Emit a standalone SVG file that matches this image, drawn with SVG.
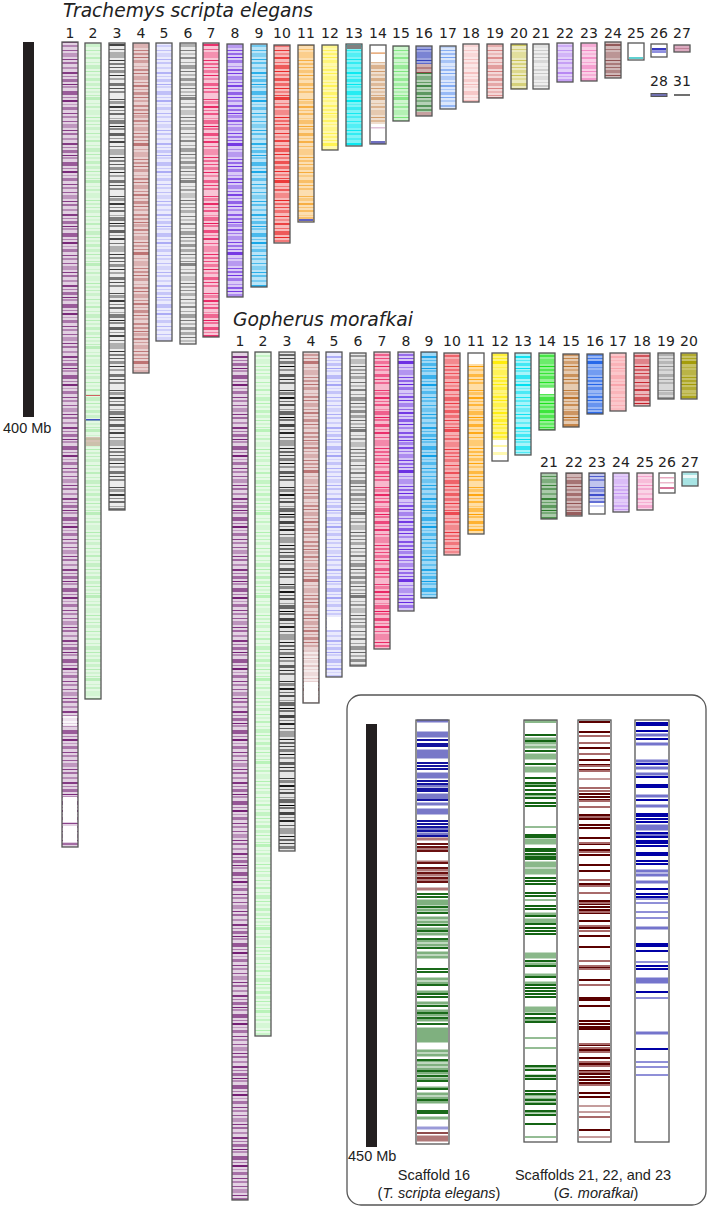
<svg xmlns="http://www.w3.org/2000/svg" width="709" height="1209" viewBox="0 0 709 1209">
<style>
.ol{fill:none;stroke:#555;stroke-width:1.3}
.n{font-family:"DejaVu Sans",sans-serif;font-size:14px;text-anchor:middle;fill:#222}
.t{font-family:"DejaVu Sans",sans-serif;font-style:italic;font-size:19px;fill:#222}
.a{font-family:"Liberation Sans",Arial,sans-serif;font-size:14.5px;fill:#222}
.c{text-anchor:middle}
.w{fill:#fff}
</style>
<defs>
<pattern id="pA" patternUnits="userSpaceOnUse" width="20" height="71"><g fill="#fff">
<rect y="1" width="20" height="2" fill-opacity=".9"/><rect y="5" width="20" height="1" fill-opacity=".5"/><rect y="8" width="20" height="3" fill-opacity=".6"/><rect y="13" width="20" height="1" fill-opacity="1"/><rect y="15" width="20" height="2" fill-opacity=".4"/><rect y="20" width="20" height="4" fill-opacity=".7"/><rect y="26" width="20" height="1" fill-opacity=".5"/><rect y="29" width="20" height="2" fill-opacity="1"/><rect y="33" width="20" height="1" fill-opacity=".3"/><rect y="36" width="20" height="3" fill-opacity=".55"/><rect y="42" width="20" height="1" fill-opacity=".85"/><rect y="45" width="20" height="2" fill-opacity=".45"/><rect y="50" width="20" height="1" fill-opacity=".7"/><rect y="53" width="20" height="4" fill-opacity=".35"/><rect y="59" width="20" height="1" fill-opacity=".9"/><rect y="62" width="20" height="2" fill-opacity=".6"/><rect y="67" width="20" height="2" fill-opacity=".4"/>
</g></pattern>
<pattern id="pB" patternUnits="userSpaceOnUse" width="20" height="83"><g fill="#fff">
<rect y="0" width="20" height="3" fill-opacity=".5"/><rect y="5" width="20" height="1" fill-opacity=".9"/><rect y="8" width="20" height="2" fill-opacity=".35"/><rect y="12" width="20" height="1" fill-opacity=".7"/><rect y="14" width="20" height="3" fill-opacity=".8"/><rect y="20" width="20" height="1" fill-opacity=".4"/><rect y="23" width="20" height="2" fill-opacity=".6"/><rect y="27" width="20" height="5" fill-opacity=".3"/><rect y="34" width="20" height="1" fill-opacity=".95"/><rect y="37" width="20" height="2" fill-opacity=".5"/><rect y="41" width="20" height="1" fill-opacity=".7"/><rect y="44" width="20" height="3" fill-opacity=".45"/><rect y="50" width="20" height="1" fill-opacity=".85"/><rect y="53" width="20" height="2" fill-opacity=".3"/><rect y="57" width="20" height="2" fill-opacity=".75"/><rect y="62" width="20" height="1" fill-opacity=".5"/><rect y="65" width="20" height="4" fill-opacity=".6"/><rect y="71" width="20" height="1" fill-opacity=".9"/><rect y="74" width="20" height="2" fill-opacity=".4"/><rect y="78" width="20" height="3" fill-opacity=".65"/>
</g></pattern>
<pattern id="pC" patternUnits="userSpaceOnUse" width="20" height="97"><g fill="#fff">
<rect y="2" width="20" height="1" fill-opacity=".8"/><rect y="4" width="20" height="3" fill-opacity=".4"/><rect y="9" width="20" height="2" fill-opacity=".9"/><rect y="13" width="20" height="1" fill-opacity=".5"/><rect y="16" width="20" height="2" fill-opacity=".65"/><rect y="21" width="20" height="1" fill-opacity=".3"/><rect y="23" width="20" height="4" fill-opacity=".55"/><rect y="29" width="20" height="1" fill-opacity="1"/><rect y="31" width="20" height="2" fill-opacity=".5"/><rect y="36" width="20" height="3" fill-opacity=".7"/><rect y="41" width="20" height="1" fill-opacity=".4"/><rect y="44" width="20" height="2" fill-opacity=".85"/><rect y="49" width="20" height="1" fill-opacity=".6"/><rect y="52" width="20" height="6" fill-opacity=".3"/><rect y="60" width="20" height="1" fill-opacity=".9"/><rect y="63" width="20" height="2" fill-opacity=".55"/><rect y="67" width="20" height="1" fill-opacity=".7"/><rect y="70" width="20" height="3" fill-opacity=".45"/><rect y="75" width="20" height="1" fill-opacity=".95"/><rect y="78" width="20" height="2" fill-opacity=".35"/><rect y="83" width="20" height="3" fill-opacity=".6"/><rect y="88" width="20" height="1" fill-opacity=".8"/><rect y="91" width="20" height="2" fill-opacity=".5"/>
</g></pattern>
<pattern id="pD" patternUnits="userSpaceOnUse" width="20" height="109"><g fill="#fff">
<rect y="0" width="20" height="2" fill-opacity=".6"/><rect y="4" width="20" height="1" fill-opacity=".9"/><rect y="6" width="20" height="3" fill-opacity=".4"/><rect y="11" width="20" height="2" fill-opacity=".75"/><rect y="15" width="20" height="1" fill-opacity=".5"/><rect y="18" width="20" height="4" fill-opacity=".35"/><rect y="24" width="20" height="1" fill-opacity=".85"/><rect y="27" width="20" height="2" fill-opacity=".55"/><rect y="31" width="20" height="1" fill-opacity=".7"/><rect y="34" width="20" height="3" fill-opacity=".9"/><rect y="40" width="20" height="1" fill-opacity=".4"/><rect y="43" width="20" height="5" fill-opacity=".3"/><rect y="50" width="20" height="1" fill-opacity=".8"/><rect y="53" width="20" height="2" fill-opacity=".6"/><rect y="57" width="20" height="1" fill-opacity=".95"/><rect y="60" width="20" height="3" fill-opacity=".5"/><rect y="66" width="20" height="1" fill-opacity=".35"/><rect y="69" width="20" height="2" fill-opacity=".7"/><rect y="73" width="20" height="1" fill-opacity=".9"/><rect y="76" width="20" height="4" fill-opacity=".4"/><rect y="82" width="20" height="1" fill-opacity=".6"/><rect y="85" width="20" height="2" fill-opacity=".85"/><rect y="89" width="20" height="1" fill-opacity=".45"/><rect y="92" width="20" height="3" fill-opacity=".65"/><rect y="97" width="20" height="1" fill-opacity=".9"/><rect y="100" width="20" height="2" fill-opacity=".4"/><rect y="105" width="20" height="2" fill-opacity=".7"/>
</g></pattern>
<mask id="mA" maskUnits="userSpaceOnUse" x="0" y="0" width="709" height="1209"><rect width="709" height="1209" fill="url(#pA)"/></mask>
<mask id="mB" maskUnits="userSpaceOnUse" x="0" y="0" width="709" height="1209"><rect width="709" height="1209" fill="url(#pB)"/></mask>
<mask id="mC" maskUnits="userSpaceOnUse" x="0" y="0" width="709" height="1209"><rect width="709" height="1209" fill="url(#pC)"/></mask>
<mask id="mD" maskUnits="userSpaceOnUse" x="0" y="0" width="709" height="1209"><rect width="709" height="1209" fill="url(#pD)"/></mask>
</defs>
<rect width="709" height="1209" fill="#fff"/>

<g id="trachemys">
<text class="t" x="63" y="17" textLength="250" lengthAdjust="spacingAndGlyphs">Trachemys scripta elegans</text>
<g id="ts-scale"><rect x="23" y="42" width="11" height="375" fill="#231f20"/><text class="a" x="3" y="433">400 Mb</text></g>

<g id="ts1" fill="#7a2a7a"><rect x="62" y="42" width="16" height="805" opacity=".22"/><rect x="62" y="42" width="16" height="805" mask="url(#mA)"/><rect class="w" x="63" y="797" width="14" height="25"/><rect class="w" x="63" y="826" width="14" height="16"/><rect class="w" x="63" y="716" width="14" height="10" opacity=".8"/><rect class="ol" x="62" y="42" width="16" height="805"/><text class="n" x="70" y="38">1</text></g>
<g id="ts2" fill="#7fe07f"><rect x="85" y="43" width="16" height="656" opacity=".22"/><rect x="85" y="43" width="16" height="656" mask="url(#mB)" opacity=".5"/><rect x="86" y="395" width="14" height="1" fill="#d06060"/><rect x="86" y="419" width="14" height="1.5" fill="#4050c0"/><rect x="86" y="437" width="14" height="9" fill="#c07070" opacity=".4"/><rect class="ol" x="85" y="43" width="16" height="656"/><text class="n" x="93" y="38">2</text></g>
<g id="ts3" fill="#111"><rect x="109" y="43" width="16" height="467" opacity=".08"/><rect x="109" y="43" width="16" height="467" mask="url(#mC)" opacity=".9"/><rect class="ol" x="109" y="43" width="16" height="467"/><text class="n" x="117" y="38">3</text></g>
<g id="ts4" fill="#a84848"><rect x="133" y="43" width="16" height="330" opacity=".25"/><rect x="133" y="43" width="16" height="330" mask="url(#mD)" opacity=".75"/><rect class="ol" x="133" y="43" width="16" height="330"/><text class="n" x="141" y="38">4</text></g>
<g id="ts5" fill="#7a7af0"><rect x="156" y="43" width="16" height="298" opacity=".15"/><rect x="156" y="43" width="16" height="298" mask="url(#mA)" opacity=".55"/><rect class="ol" x="156" y="43" width="16" height="298"/><text class="n" x="164" y="38">5</text></g>
<g id="ts6" fill="#555"><rect x="180" y="43" width="16" height="301" opacity=".12"/><rect x="180" y="43" width="16" height="301" mask="url(#mB)" opacity=".85"/><rect class="ol" x="180" y="43" width="16" height="301"/><text class="n" x="188" y="38">6</text></g>
<g id="ts7" fill="#e8185a"><rect x="203" y="43" width="16" height="294" opacity=".25"/><rect x="203" y="43" width="16" height="294" mask="url(#mC)"/><rect class="ol" x="203" y="43" width="16" height="294"/><text class="n" x="211" y="38">7</text></g>
<g id="ts8" fill="#6a2ae0"><rect x="227" y="44" width="16" height="253" opacity=".25"/><rect x="227" y="44" width="16" height="253" mask="url(#mD)"/><rect class="ol" x="227" y="44" width="16" height="253"/><text class="n" x="235" y="38">8</text></g>
<g id="ts9" fill="#1aa8e8"><rect x="251" y="44" width="16" height="243" opacity=".3"/><rect x="251" y="44" width="16" height="243" mask="url(#mA)"/><rect class="ol" x="251" y="44" width="16" height="243"/><text class="n" x="259" y="38">9</text></g>
<g id="ts10" fill="#e81a1a"><rect x="274" y="45" width="16" height="198" opacity=".3"/><rect x="274" y="45" width="16" height="198" mask="url(#mB)"/><rect class="ol" x="274" y="45" width="16" height="198"/><text class="n" x="282" y="38">10</text></g>
<g id="ts11" fill="#f5a020"><rect x="298" y="45" width="16" height="177" opacity=".35"/><rect x="298" y="45" width="16" height="177" mask="url(#mC)" opacity=".85"/><rect x="299" y="219" width="14" height="2" fill="#6060c0"/><rect class="ol" x="298" y="45" width="16" height="177"/><text class="n" x="306" y="38">11</text></g>
<g id="ts12" fill="#fff030"><rect x="322" y="45" width="16" height="105" opacity=".4"/><rect x="322" y="45" width="16" height="105" mask="url(#mD)" opacity=".8"/><rect class="ol" x="322" y="45" width="16" height="105"/><text class="n" x="330" y="38">12</text></g>
<g id="ts13" fill="#00e8f0"><rect x="346" y="44" width="16" height="102" opacity=".5"/><rect x="346" y="44" width="16" height="102" mask="url(#mA)"/><rect x="347" y="45" width="14" height="4" fill="#808080"/><rect class="ol" x="346" y="44" width="16" height="102"/><text class="n" x="354" y="38">13</text></g>
<g id="ts14" fill="#c07a3a"><rect x="371" y="52.5" width="14" height="1.2" fill="#e09050"/><rect x="371" y="62" width="14" height="62" opacity=".25"/><rect x="371" y="62" width="14" height="62" mask="url(#mB)" opacity=".7"/><rect x="371" y="127" width="14" height="1.5" fill="#e0c0d8"/><rect x="371" y="141" width="14" height="3" fill="#7070c0"/><rect class="ol" x="370" y="45" width="16" height="99"/><text class="n" x="378" y="38">14</text></g>
<g id="ts15" fill="#60e060"><rect x="393" y="46" width="16" height="75" opacity=".3"/><rect x="393" y="46" width="16" height="75" mask="url(#mB)" opacity=".8"/><rect class="ol" x="393" y="46" width="16" height="75"/><text class="n" x="401" y="38">15</text></g>
<g id="ts16"><rect x="416" y="46" width="16" height="18" fill="#2838b8" opacity=".45"/><rect x="416" y="46" width="16" height="18" fill="#2838b8" mask="url(#mC)"/><rect x="416" y="64" width="16" height="9" fill="#8b3a3a" opacity=".4"/><rect x="416" y="64" width="16" height="9" fill="#8b3a3a" mask="url(#mA)"/><rect x="416" y="73" width="16" height="39" fill="#2e7a32" opacity=".35"/><rect x="416" y="73" width="16" height="39" fill="#2e7a32" mask="url(#mD)"/><rect x="416" y="112" width="16" height="4" fill="#a06060" opacity=".6"/><rect class="ol" x="416" y="46" width="16" height="70"/><text class="n" x="424" y="38">16</text></g>
<g id="ts17" fill="#5a90f0"><rect x="440" y="46" width="16" height="63" opacity=".22"/><rect x="440" y="46" width="16" height="63" mask="url(#mD)" opacity=".8"/><rect class="ol" x="440" y="46" width="16" height="63"/><text class="n" x="448" y="38">17</text></g>
<g id="ts18" fill="#f0a0a0"><rect x="463" y="44" width="16" height="58" opacity=".25"/><rect x="463" y="44" width="16" height="58" mask="url(#mA)" opacity=".6"/><rect class="ol" x="463" y="44" width="16" height="58"/><text class="n" x="471" y="38">18</text></g>
<g id="ts19" fill="#d06060"><rect x="487" y="44" width="16" height="54" opacity=".25"/><rect x="487" y="44" width="16" height="54" mask="url(#mB)" opacity=".8"/><rect class="ol" x="487" y="44" width="16" height="54"/><text class="n" x="495" y="38">19</text></g>
<g id="ts20" fill="#c0b830"><rect x="511" y="44" width="16" height="45" opacity=".3"/><rect x="511" y="44" width="16" height="45" mask="url(#mC)" opacity=".8"/><rect class="ol" x="511" y="44" width="16" height="45"/><text class="n" x="519" y="38">20</text></g>
<g id="ts21" fill="#a8a8a8"><rect x="533" y="44" width="16" height="45" opacity=".2"/><rect x="533" y="44" width="16" height="45" mask="url(#mD)" opacity=".6"/><rect class="ol" x="533" y="44" width="16" height="45"/><text class="n" x="541" y="38">21</text></g>
<g id="ts22" fill="#a060f0"><rect x="557" y="43" width="16" height="39" opacity=".3"/><rect x="557" y="43" width="16" height="39" mask="url(#mA)" opacity=".7"/><rect class="ol" x="557" y="43" width="16" height="39"/><text class="n" x="565" y="38">22</text></g>
<g id="ts23" fill="#f060b0"><rect x="581" y="43" width="16" height="38" opacity=".3"/><rect x="581" y="43" width="16" height="38" mask="url(#mB)" opacity=".7"/><rect class="ol" x="581" y="43" width="16" height="38"/><text class="n" x="589" y="38">23</text></g>
<g id="ts24" fill="#8a4a4a"><rect x="605" y="42" width="16" height="36" opacity=".4"/><rect x="605" y="42" width="16" height="36" mask="url(#mC)"/><rect class="ol" x="605" y="42" width="16" height="36"/><text class="n" x="613" y="38">24</text></g>
<g id="ts25"><rect x="629" y="57" width="14" height="2" fill="#60d0d0"/><rect class="ol" x="628" y="43" width="16" height="17"/><text class="n" x="636" y="38">25</text></g>
<g id="ts26"><rect x="652" y="48" width="14" height="2.5" fill="#3a3ac0"/><rect x="652" y="51" width="14" height="2" fill="#9090e0"/><rect class="ol" x="651" y="44" width="16" height="13"/><text class="n" x="659" y="38">26</text></g>
<g id="ts27"><rect x="674" y="45" width="16" height="7" fill="#dcaac0"/><rect x="675" y="48" width="14" height="1" fill="#c08098"/><rect class="ol" x="674" y="45" width="16" height="7"/><text class="n" x="682" y="38">27</text></g>
<g id="ts28"><rect x="651" y="93.5" width="16" height="3" fill="#7070b0" stroke="#555" stroke-width="1"/><text class="n" x="659" y="86">28</text></g>
<g id="ts31"><path d="M674 95H690" stroke="#222" stroke-width="1.3"/><text class="n" x="682" y="86">31</text></g>
</g>

<g id="gopherus">
<text class="t" x="233" y="326" textLength="180" lengthAdjust="spacingAndGlyphs">Gopherus morafkai</text>
<g id="gm1" fill="#741f74"><rect x="232" y="352" width="16" height="848" opacity=".2"/><rect x="232" y="352" width="16" height="848" mask="url(#mA)"/><rect class="ol" x="232" y="352" width="16" height="848"/><text class="n" x="240" y="346">1</text></g>
<g id="gm2" fill="#80e880"><rect x="255" y="352" width="16" height="684" opacity=".2"/><rect x="255" y="352" width="16" height="684" mask="url(#mB)" opacity=".55"/><rect class="ol" x="255" y="352" width="16" height="684"/><text class="n" x="263" y="346">2</text></g>
<g id="gm3" fill="#000"><rect x="279" y="352" width="16" height="499" opacity=".1"/><rect x="279" y="352" width="16" height="499" mask="url(#mC)"/><rect class="ol" x="279" y="352" width="16" height="499"/><text class="n" x="287" y="346">3</text></g>
<g id="gm4" fill="#a85050"><rect x="303" y="352" width="16" height="351" opacity=".25"/><rect x="303" y="352" width="16" height="351" mask="url(#mD)" opacity=".8"/><rect class="w" x="304" y="650" width="14" height="52" opacity=".55"/><rect class="w" x="304" y="682" width="14" height="20"/><rect class="ol" x="303" y="352" width="16" height="351"/><text class="n" x="311" y="346">4</text></g>
<g id="gm5" fill="#7070f0"><rect x="326" y="352" width="16" height="325" opacity=".15"/><rect x="326" y="352" width="16" height="325" mask="url(#mA)" opacity=".55"/><rect class="w" x="327" y="617" width="14" height="13"/><rect class="ol" x="326" y="352" width="16" height="325"/><text class="n" x="334" y="346">5</text></g>
<g id="gm6" fill="#444"><rect x="350" y="353" width="16" height="313" opacity=".12"/><rect x="350" y="353" width="16" height="313" mask="url(#mB)" opacity=".85"/><rect class="ol" x="350" y="353" width="16" height="313"/><text class="n" x="358" y="346">6</text></g>
<g id="gm7" fill="#e8185a"><rect x="374" y="352" width="16" height="297" opacity=".3"/><rect x="374" y="352" width="16" height="297" mask="url(#mC)"/><rect class="ol" x="374" y="352" width="16" height="297"/><text class="n" x="382" y="346">7</text></g>
<g id="gm8" fill="#6020e0"><rect x="398" y="352" width="16" height="259" opacity=".25"/><rect x="398" y="352" width="16" height="259" mask="url(#mD)"/><rect class="ol" x="398" y="352" width="16" height="259"/><text class="n" x="406" y="346">8</text></g>
<g id="gm9" fill="#10a0e8"><rect x="421" y="352" width="16" height="246" opacity=".4"/><rect x="421" y="352" width="16" height="246" mask="url(#mA)"/><rect class="ol" x="421" y="352" width="16" height="246"/><text class="n" x="429" y="346">9</text></g>
<g id="gm10" fill="#e81a24"><rect x="444" y="353" width="16" height="202" opacity=".35"/><rect x="444" y="353" width="16" height="202" mask="url(#mB)" opacity=".85"/><rect class="ol" x="444" y="353" width="16" height="202"/><text class="n" x="452" y="346">10</text></g>
<g id="gm11" fill="#ffa000"><rect x="468" y="364" width="16" height="170" opacity=".35"/><rect x="468" y="364" width="16" height="170" mask="url(#mC)"/><rect class="ol" x="468" y="353" width="16" height="181"/><text class="n" x="476" y="346">11</text></g>
<g id="gm12" fill="#ffec00"><rect x="492" y="353" width="16" height="87" opacity=".5"/><rect x="492" y="353" width="16" height="87" mask="url(#mD)"/><rect x="493" y="445" width="14" height="2" opacity=".35"/><rect x="493" y="452" width="14" height="3" opacity=".3"/><rect class="ol" x="492" y="353" width="16" height="108"/><text class="n" x="500" y="346">12</text></g>
<g id="gm13" fill="#00e0f0"><rect x="515" y="353" width="16" height="102" opacity=".35"/><rect x="515" y="353" width="16" height="102" mask="url(#mA)"/><rect class="ol" x="515" y="353" width="16" height="102"/><text class="n" x="523" y="346">13</text></g>
<g id="gm14" fill="#10e010"><rect x="539" y="353" width="16" height="77" opacity=".45"/><rect x="539" y="353" width="16" height="77" mask="url(#mB)"/><rect class="w" x="540" y="388" width="14" height="6"/><rect class="ol" x="539" y="353" width="16" height="77"/><text class="n" x="547" y="346">14</text></g>
<g id="gm15" fill="#b86a20"><rect x="563" y="354" width="16" height="73" opacity=".35"/><rect x="563" y="354" width="16" height="73" mask="url(#mC)"/><rect class="ol" x="563" y="354" width="16" height="73"/><text class="n" x="571" y="346">15</text></g>
<g id="gm16" fill="#1c60e8"><rect x="587" y="354" width="16" height="60" opacity=".45"/><rect x="587" y="354" width="16" height="60" mask="url(#mD)"/><rect class="ol" x="587" y="354" width="16" height="60"/><text class="n" x="595" y="346">16</text></g>
<g id="gm17" fill="#f89098"><rect x="610" y="353" width="16" height="58" opacity=".5"/><rect x="610" y="353" width="16" height="58" mask="url(#mA)" opacity=".6"/><rect class="ol" x="610" y="353" width="16" height="58"/><text class="n" x="618" y="346">17</text></g>
<g id="gm18" fill="#c0101a"><rect x="634" y="353" width="16" height="53" opacity=".3"/><rect x="634" y="353" width="16" height="53" mask="url(#mB)"/><rect class="ol" x="634" y="353" width="16" height="53"/><text class="n" x="642" y="346">18</text></g>
<g id="gm19" fill="#909090"><rect x="658" y="353" width="16" height="46" opacity=".35"/><rect x="658" y="353" width="16" height="46" mask="url(#mC)"/><rect class="ol" x="658" y="353" width="16" height="46"/><text class="n" x="666" y="346">19</text></g>
<g id="gm20" fill="#a09800"><rect x="681" y="353" width="16" height="46" opacity=".6"/><rect x="681" y="353" width="16" height="46" mask="url(#mD)"/><rect class="ol" x="681" y="353" width="16" height="46"/><text class="n" x="689" y="346">20</text></g>
<g id="gm21" fill="#2a7a2a"><rect x="541" y="473" width="16" height="46" opacity=".4"/><rect x="541" y="473" width="16" height="46" mask="url(#mA)"/><rect class="ol" x="541" y="473" width="16" height="46"/><text class="n" x="549" y="467">21</text></g>
<g id="gm22" fill="#8a4848"><rect x="566" y="473" width="16" height="43" opacity=".4"/><rect x="566" y="473" width="16" height="43" mask="url(#mB)"/><rect class="ol" x="566" y="473" width="16" height="43"/><text class="n" x="574" y="467">22</text></g>
<g id="gm23" fill="#3040c8"><rect x="589" y="473" width="16" height="30" opacity=".3"/><rect x="589" y="473" width="16" height="30" mask="url(#mC)"/><rect x="590" y="505" width="14" height="2" opacity=".25"/><rect class="ol" x="589" y="473" width="16" height="41"/><text class="n" x="597" y="467">23</text></g>
<g id="gm24" fill="#b880f0"><rect x="613" y="473" width="16" height="39" opacity=".4"/><rect x="613" y="473" width="16" height="39" mask="url(#mD)" opacity=".7"/><rect class="ol" x="613" y="473" width="16" height="39"/><text class="n" x="621" y="467">24</text></g>
<g id="gm25" fill="#f070b0"><rect x="637" y="473" width="16" height="37" opacity=".3"/><rect x="637" y="473" width="16" height="37" mask="url(#mA)" opacity=".7"/><rect class="ol" x="637" y="473" width="16" height="37"/><text class="n" x="645" y="467">25</text></g>
<g id="gm26" fill="#d05080"><rect x="660" y="477" width="14" height="1.5" opacity=".5"/><rect x="660" y="482" width="14" height="1.5" opacity=".4"/><rect x="660" y="487" width="14" height="2" opacity=".8"/><rect class="ol" x="659" y="473" width="16" height="20"/><text class="n" x="667" y="467">26</text></g>
<g id="gm27"><rect x="682" y="472" width="16" height="14" fill="#a8e4e4"/><rect x="683" y="475" width="14" height="3" fill="#fff" opacity=".8"/><rect class="ol" x="682" y="472" width="16" height="14"/><text class="n" x="690" y="467">27</text></g>
</g>

<g id="inset">
<rect class="ol" x="347" y="695" width="359" height="510" rx="14"/>
<g id="inset-scale"><rect x="366" y="724" width="11" height="423" fill="#231f20"/><text class="a" x="348" y="1161">450 Mb</text></g>
<g id="scaffold16">
<path d="M417 721h31M417 733h31M417 736h31M417 751h31M417 754h31M417 757h31M417 774h31M417 777h31M417 786h31M417 795h31M417 798h31M417 804h31M417 810h31M417 813h31M417 829h31M417 834h31" stroke="#7878c8" stroke-width="3"/>
<path d="M417 740h31M417 744h31M417 746h31M417 763h31M417 766h31M417 769h31M417 781h31M417 784h31M417 789h31M417 791h31M417 800h31M417 821h31M417 824h31M417 827h31M417 831h31M417 836h31" stroke="#12129e" stroke-width="2"/>
<path d="M417 839h31M417 849h31M417 862h31M417 870h31M417 875h31M417 880h31M417 889h31M417 1137h31M417 1140h31" stroke="#b07878" stroke-width="3"/>
<path d="M417 844h31M417 847h31M417 851h31M417 863h31M417 868h31M417 873h31M417 878h31M417 882h31" stroke="#6a1010" stroke-width="2"/>
<path d="M417 1133h31" stroke="#6a1010" stroke-width="1.5"/>
<path d="M417 1128h31" stroke="#9a9ad8" stroke-width="3"/>
<path d="M417 901h31M417 904h31M417 910h31M417 918h31M417 922h31M417 929h31M417 934h31M417 941h31M417 945h31M417 953h31M417 957h31M417 979h31M417 983h31M417 992h31M417 1003h31M417 1011h31M417 1015h31M417 1020h31M417 1029h31M417 1032h31M417 1035h31M417 1038h31M417 1041h31M417 1051h31M417 1055h31M417 1061h31M417 1065h31M417 1069h31M417 1073h31M417 1079h31M417 1088h31M417 1094h31M417 1098h31M417 1102h31M417 1118h31" stroke="#7fb07f" stroke-width="3"/>
<path d="M417 894h31M417 897h31M417 907h31M417 913h31M417 925h31M417 931h31M417 939h31M417 948h31M417 969h31M417 972h31M417 985h31M417 994h31M417 997h31M417 1006h31M417 1013h31M417 1018h31M417 1024h31M417 1060h31M417 1071h31M417 1076h31M417 1081h31M417 1089h31M417 1100h31M417 1111h31M417 1113h31" stroke="#1a6a1a" stroke-width="2"/>
<rect class="ol" x="416" y="720" width="33" height="424"/>
</g>
<g id="scaffold21">
<path d="M525 721.5h31M525 739h31M525 743h31M525 747h31M525 755h31M525 758h31M525 768h31M525 771h31M525 784h31M525 795h31M525 840h31M525 843h31M525 855h31M525 863h31M525 866h31M525 870h31M525 873h31M525 914h31M525 920h31M525 923h31M525 954h31M525 957h31M525 964h31M525 975h31M525 983h31M525 1008h31M525 1011h31M525 1020h31M525 1067h31M525 1076h31M525 1095h31M525 1099h31M525 1103h31M525 1112h31" stroke="#8ab88a" stroke-width="3"/>
<path d="M525 735h31M525 741h31M525 751h31M525 764h31M525 778h31M525 783h31M525 786h31M525 790h31M525 794h31M525 798h31M525 803h31M525 806h31M525 835h31M525 837h31M525 849h31M525 851h31M525 854h31M525 857h31M525 859h31M525 878h31M525 881h31M525 884h31M525 893h31M525 896h31M525 906h31M525 909h31M525 916h31M525 924h31M525 928h31M525 931h31M525 934h31M525 961h31M525 966h31M525 977h31M525 985h31M525 988h31M525 991h31M525 994h31M525 997h31M525 1014h31M525 1018h31M525 1022h31M525 1066h31M525 1070h31M525 1076h31M525 1079h31M525 1091h31M525 1094h31M525 1100h31M525 1104h31M525 1111h31M525 1115h31M525 1124h31" stroke="#146414" stroke-width="2"/>
<path d="M525 827h31M525 900h31M525 1038h31M525 1048h31M525 1137h31" stroke="#2a7a2a" stroke-width="1"/>
<rect class="ol" x="524" y="720" width="33" height="422"/>
</g>
<g id="scaffold22">
<path d="M579 722h31M579 732h31M579 748h31M579 760h31M579 765h31M579 770h31M579 794h31M579 797h31M579 800h31M579 815h31M579 819h31M579 825h31M579 828h31M579 838h31M579 844h31M579 850h31M579 855h31M579 865h31M579 871h31M579 884h31M579 901h31M579 904h31M579 907h31M579 910h31M579 913h31M579 921h31M579 928h31M579 936h31M579 947h31M579 967h31M579 980h31M579 998h31M579 1000h31M579 1006h31M579 1021h31M579 1024h31M579 1027h31M579 1029h31M579 1045h31M579 1050h31M579 1058h31M579 1064h31M579 1071h31M579 1074h31M579 1077h31M579 1080h31M579 1083h31M579 1093h31M579 1097h31M579 1130h31" stroke="#5a0000" stroke-width="2"/>
<path d="M579 736h31M579 743h31M579 754h31M579 766h31M579 771h31M579 788h31M579 791h31M579 801h31M579 807h31M579 817h31M579 843h31M579 852h31M579 880h31M579 886h31M579 893h31M579 903h31M579 912h31M579 926h31M579 931h31M579 961h31M579 966h31M579 969h31M579 985h31M579 1044h31M579 1048h31M579 1052h31M579 1062h31M579 1066h31M579 1072h31M579 1085h31M579 1117h31" stroke="#a86a6a" stroke-width="2"/>
<path d="M579 779h31M579 1106h31M579 1112h31M579 1137h31" stroke="#8a3a3a" stroke-width="1"/>
<rect class="ol" x="578" y="720" width="33" height="422"/>
</g>
<g id="scaffold23">
<path d="M636 735h32M636 744h32M636 761h32M636 768h32M636 774h32M636 796h32M636 806h32M636 826h32M636 829h32M636 835h32M636 871h32M636 875h32M636 882h32M636 928h32M636 979h32M636 982h32M636 1033h32" stroke="#7474cc" stroke-width="3"/>
<path d="M636 723h32M636 725h32M636 731h32M636 739h32M636 764h32M636 777h32M636 785h32M636 787h32M636 800h32M636 814h32M636 816h32M636 819h32M636 822h32M636 833h32M636 837h32M636 841h32M636 843h32M636 846h32M636 853h32M636 855h32M636 861h32M636 864h32M636 889h32M636 894h32M636 897h32M636 944h32M636 946h32M636 951h32M636 966h32M636 969h32M636 992h32M636 1049h32" stroke="#0000a6" stroke-width="2"/>
<path d="M636 899h32M636 903h32M636 912h32M636 918h32M636 962h32M636 998h32M636 1062h32M636 1067h32M636 1075h32" stroke="#2020b0" stroke-width="1"/>
<rect class="ol" x="635" y="720" width="34" height="422"/>
</g>
<text class="a c" x="434" y="1180">Scaffold 16</text>
<text class="a c" x="439" y="1198">(<tspan font-style="italic">T. scripta elegans</tspan>)</text>
<text class="a c" x="593" y="1180">Scaffolds 21, 22, and 23</text>
<text class="a c" x="596" y="1198">(<tspan font-style="italic">G. morafkai</tspan>)</text>
</g>
</svg>
